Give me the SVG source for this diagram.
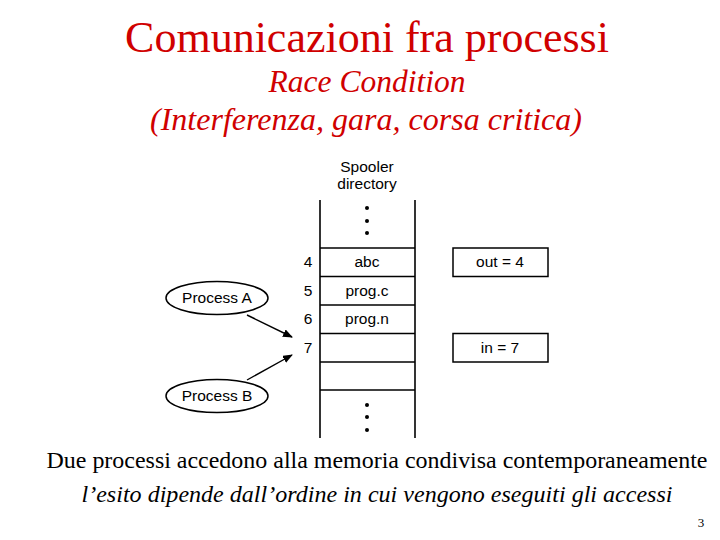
<svg xmlns="http://www.w3.org/2000/svg" width="720" height="540" viewBox="0 0 720 540">
<style>
.title{font-family:"Liberation Serif",serif;fill:#d00000;text-anchor:middle}
.sans{font-family:"Liberation Sans",Arial,sans-serif;font-size:15.5px;fill:#000;text-anchor:middle}
.serif{font-family:"Liberation Serif",serif;fill:#000;text-anchor:middle}
.ln{stroke:#000;stroke-width:1.6;fill:none}
.box{stroke:#000;stroke-width:1.5;fill:#fff}
.dot{fill:#000}
</style>
<defs>
<marker id="ah" markerWidth="10" markerHeight="8" refX="9" refY="4" orient="auto" markerUnits="userSpaceOnUse">
<path d="M0,0 L10,4 L0,8 Z" fill="#000"/>
</marker>
</defs>
<rect width="720" height="540" fill="#fff"/>
<g id="titles">
<text class="title" x="367" y="52" font-size="44">Comunicazioni fra processi</text>
<text class="title" x="367" y="92" font-size="31.5" font-style="italic">Race Condition</text>
<text class="title" x="366" y="130" font-size="31.5" font-style="italic" textLength="432" lengthAdjust="spacingAndGlyphs">(Interferenza, gara, corsa critica)</text>
</g>
<g id="spooler">
<text class="sans" x="367" y="172">Spooler</text>
<text class="sans" x="367" y="189">directory</text>
<line class="ln" x1="320" y1="200" x2="320" y2="438"/>
<line class="ln" x1="415" y1="200" x2="415" y2="438"/>
<line class="ln" x1="320" y1="248" x2="415" y2="248"/>
<line class="ln" x1="320" y1="276.5" x2="415" y2="276.5"/>
<line class="ln" x1="320" y1="305" x2="415" y2="305"/>
<line class="ln" x1="320" y1="333.5" x2="415" y2="333.5"/>
<line class="ln" x1="320" y1="362" x2="415" y2="362"/>
<line class="ln" x1="320" y1="390" x2="415" y2="390"/>
<circle class="dot" cx="367" cy="208" r="2"/>
<circle class="dot" cx="367" cy="221" r="2"/>
<circle class="dot" cx="367" cy="233" r="2"/>
<circle class="dot" cx="367" cy="405" r="2"/>
<circle class="dot" cx="367" cy="417" r="2"/>
<circle class="dot" cx="367" cy="430" r="2"/>
<text class="sans" x="308" y="267">4</text>
<text class="sans" x="308" y="296">5</text>
<text class="sans" x="308" y="324">6</text>
<text class="sans" x="308" y="353">7</text>
<text class="sans" x="367" y="267">abc</text>
<text class="sans" x="367" y="296">prog.c</text>
<text class="sans" x="367" y="324">prog.n</text>
</g>
<g id="out">
<rect class="box" x="453" y="248" width="95" height="28.5"/>
<text class="sans" x="500" y="267">out = 4</text>
</g>
<g id="in">
<rect class="box" x="453" y="333.5" width="95" height="28.5"/>
<text class="sans" x="500" y="353">in = 7</text>
</g>
<g id="processA">
<ellipse class="box" cx="217" cy="298" rx="51" ry="16.5"/>
<text class="sans" x="217" y="303">Process A</text>
</g>
<g id="processB">
<ellipse class="box" cx="217" cy="396" rx="51" ry="16.5"/>
<text class="sans" x="217" y="401">Process B</text>
</g>
<g id="connectors">
<line x1="247" y1="315" x2="292" y2="337" stroke="#000" stroke-width="1.4" marker-end="url(#ah)"/>
<line x1="247" y1="380" x2="292" y2="355" stroke="#000" stroke-width="1.4" marker-end="url(#ah)"/>
</g>
<g id="caption">
<text class="serif" x="377" y="468" font-size="24" textLength="661" lengthAdjust="spacingAndGlyphs">Due processi accedono alla memoria condivisa contemporaneamente</text>
<text class="serif" x="377" y="502" font-size="24" font-style="italic" textLength="591" lengthAdjust="spacingAndGlyphs">l’esito dipende dall’ordine in cui vengono eseguiti gli accessi</text>
<text class="serif" x="701" y="527" font-size="13">3</text>
</g>
</svg>
